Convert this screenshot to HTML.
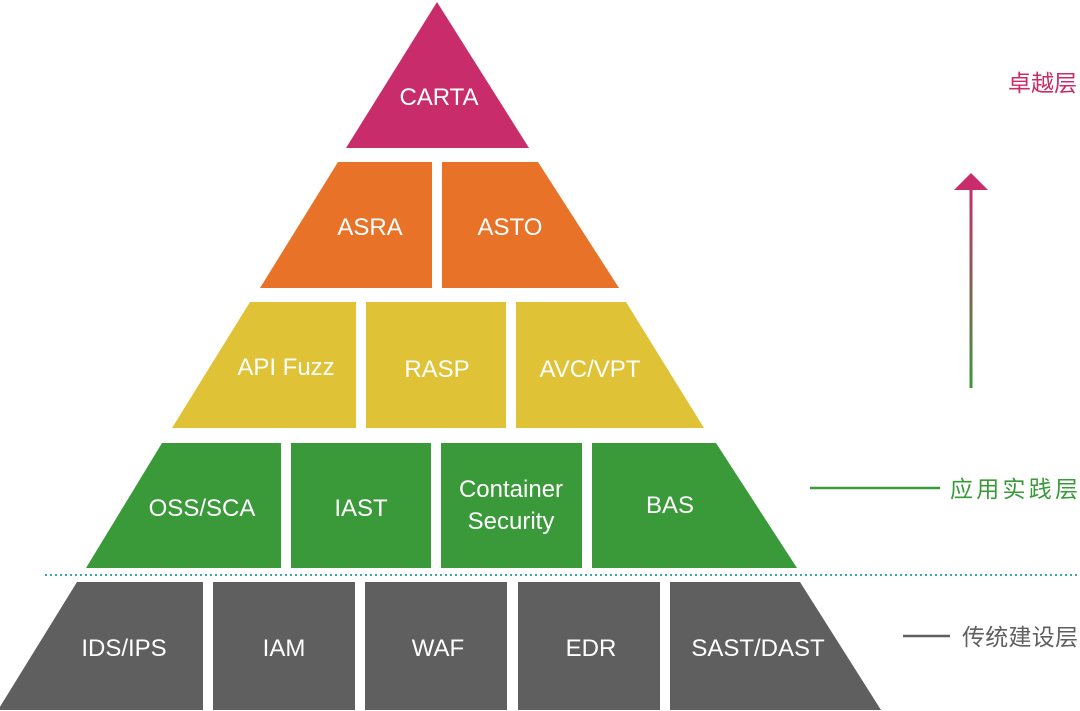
<!DOCTYPE html>
<html><head><meta charset="utf-8"><style>
html,body{margin:0;padding:0;background:#fff;}
svg{display:block;}
text{font-family:"Liberation Sans","Noto Sans CJK SC",sans-serif;}
</style></head><body>
<svg width="1080" height="711" viewBox="0 0 1080 711" xmlns="http://www.w3.org/2000/svg">
<defs>
<linearGradient id="g" x1="0" y1="0" x2="0" y2="1">
<stop offset="0" stop-color="#c92c6a"/><stop offset="1" stop-color="#3a9a3a"/>
</linearGradient>
</defs>
<polygon points="437,2 529,148 346,148" fill="#c92c6a"/>
<polygon points="338,162 432,162 432,288 260,288" fill="#e87228"/>
<polygon points="442,162 538,162 619,288 442,288" fill="#e87228"/>
<polygon points="250,302 356,302 356,428 172,428" fill="#dfc236"/>
<rect x="366" y="302" width="140" height="126" fill="#dfc236"/>
<polygon points="516,302 626,302 704,428 516,428" fill="#dfc236"/>
<polygon points="162,443 281,443 281,568 86,568" fill="#3a9a3a"/>
<rect x="291" y="443" width="140" height="125" fill="#3a9a3a"/>
<rect x="441" y="443" width="141" height="125" fill="#3a9a3a"/>
<polygon points="592,443 716,443 797,568 592,568" fill="#3a9a3a"/>
<line x1="45" y1="575" x2="1078" y2="575" stroke="#3aa6b0" stroke-width="2" stroke-dasharray="2,3"/>
<polygon points="77,582 203,582 203,710 -2,710" fill="#5f5f5f"/>
<rect x="213" y="582" width="142" height="128" fill="#5f5f5f"/>
<rect x="365" y="582" width="142" height="128" fill="#5f5f5f"/>
<rect x="518" y="582" width="142" height="128" fill="#5f5f5f"/>
<polygon points="670,582 800,582 881,710 670,710" fill="#5f5f5f"/>
<g fill="#fff" font-size="24" text-anchor="middle">
<text x="439" y="105">CARTA</text>
<text x="370" y="235">ASRA</text>
<text x="510" y="235">ASTO</text>
<text x="286" y="375">API Fuzz</text>
<text x="437" y="377">RASP</text>
<text x="590" y="377">AVC/VPT</text>
<text x="202" y="516">OSS/SCA</text>
<text x="361" y="516">IAST</text>
<text x="511" y="497">Container</text>
<text x="511" y="529">Security</text>
<text x="670" y="513">BAS</text>
<text x="124" y="656">IDS/IPS</text>
<text x="284" y="656">IAM</text>
<text x="438" y="656">WAF</text>
<text x="591" y="656">EDR</text>
<text x="758" y="656">SAST/DAST</text>
</g>
<g font-size="23">
<text x="1008" y="91" fill="#c92c6a">卓越层</text>
<text x="950" y="497" fill="#3a9a3a" textLength="128">应用实践层</text>
<text x="962" y="645" fill="#5f5f5f" textLength="116">传统建设层</text>
</g>
<rect x="969.5" y="188" width="3" height="200" fill="url(#g)"/>
<polygon points="971,173 988,190 954,190" fill="#c92c6a"/>
<line x1="810" y1="488" x2="940" y2="488" stroke="#3a9a3a" stroke-width="2.5"/>
<line x1="903" y1="636" x2="950" y2="636" stroke="#5f5f5f" stroke-width="2.5"/>
</svg>
</body></html>
